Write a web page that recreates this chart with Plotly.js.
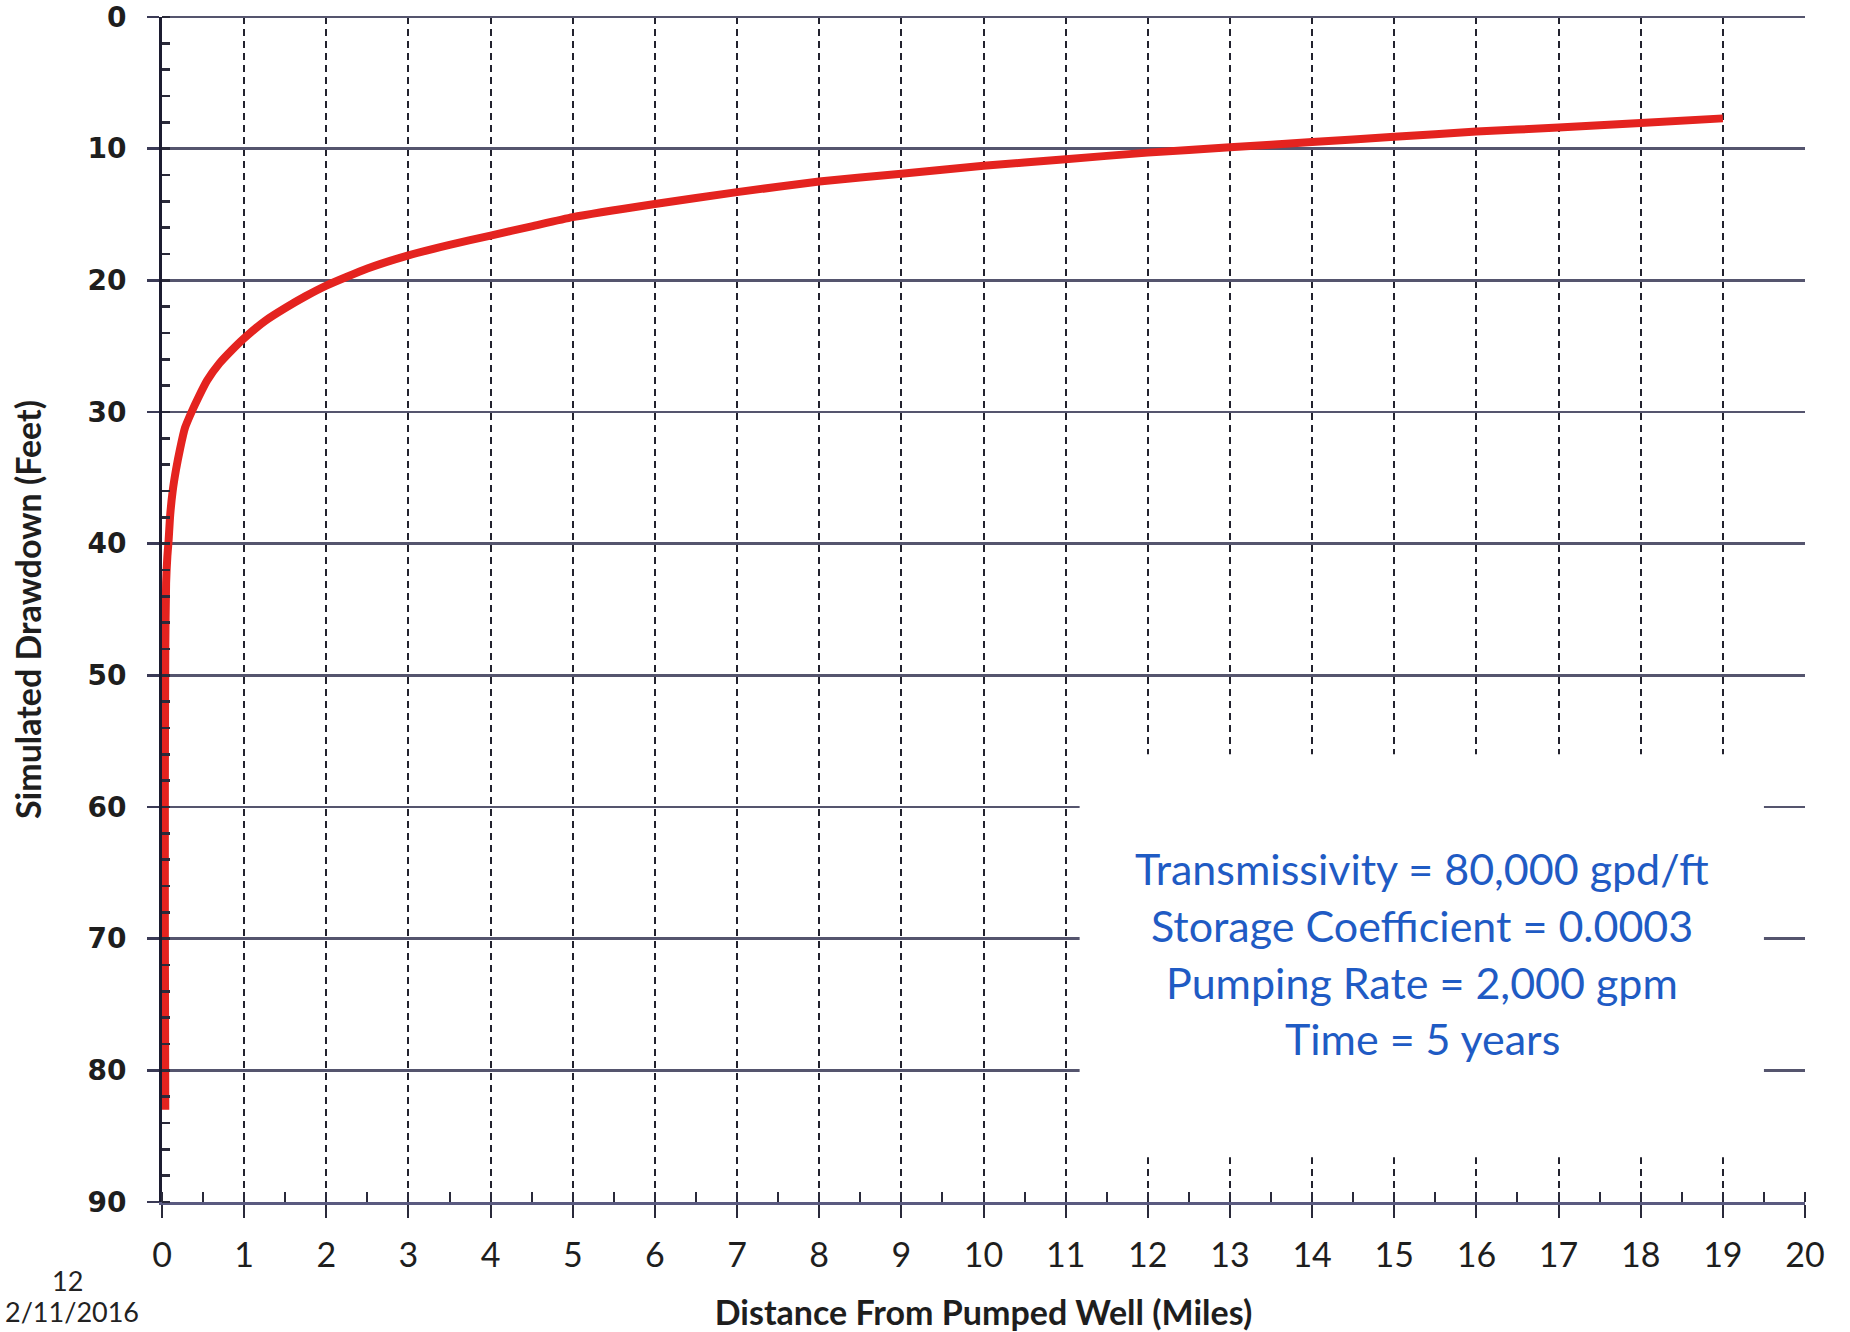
<!DOCTYPE html>
<html>
<head>
<meta charset="utf-8">
<script src="https://cdn.plot.ly/plotly-3.0.1.min.js"></script>
<style>
  html, body { margin: 0; padding: 0; background: #ffffff; }
  #chart { width: 1850px; height: 1332px; }
</style>
</head>
<body>
<div id="chart"></div>
<script>
// Distance from pumped well (miles)
const distanceMiles = [0.04, 0.035, 0.035, 0.04, 0.05, 0.065, 0.08, 0.1, 0.13, 0.17, 0.22, 0.28, 0.36, 0.45, 0.55, 0.7, 0.85, 1, 1.25, 1.5, 1.75, 2, 2.5, 3, 3.5, 4, 4.5, 5, 6, 7, 8, 9, 10, 11, 12, 13, 14, 15, 16, 17, 18, 19];
// Simulated drawdown (feet)
const drawdownFeet = [83, 70, 58, 48, 43, 41, 39.8, 37.8, 36.0, 34.4, 32.8, 31.2, 30.0, 28.8, 27.6, 26.3, 25.3, 24.4, 23.1, 22.1, 21.2, 20.4, 19.1, 18.1, 17.3, 16.6, 15.9, 15.2, 14.2, 13.3, 12.5, 11.9, 11.3, 10.8, 10.3, 9.9, 9.5, 9.1, 8.7, 8.4, 8.05, 7.7];

const xTickVals = [0,1,2,3,4,5,6,7,8,9,10,11,12,13,14,15,16,17,18,19,20];
const yTickVals = [0,10,20,30,40,50,60,70,80,90];

const infoLines = [
  "Transmissivity = 80,000 gpd/ft",
  "Storage Coefficient = 0.0003",
  "Pumping Rate = 2,000 gpm",
  "Time = 5 years"
];
const footerPage = "12";
const footerDate = "2/11/2016";

const xTitle = "Distance From Pumped Well (Miles)";
const yTitle = "Simulated Drawdown (Feet)";

const trace = {
  x: distanceMiles,
  y: drawdownFeet,
  type: "scatter",
  mode: "lines",
  line: { color: "#e4231f", width: 8, shape: "spline", smoothing: 0.5 },
  hoverinfo: "x+y",
  showlegend: false
};

const infoAnnotations = infoLines.map((t, i) => ({
  text: t,
  x: 15.34,
  y: 64.7 + i * 4.3,
  xref: "x",
  yref: "y",
  showarrow: false,
  xanchor: "center",
  yanchor: "middle",
  font: { family: "Lato, 'Open Sans', sans-serif", size: 43, color: "#1f5bc4" }
}));

const layout = {
  width: 1850,
  height: 1332,
  margin: { l: 162, r: 45, t: 17, b: 130, pad: 0 },
  paper_bgcolor: "#ffffff",
  plot_bgcolor: "#ffffff",
  showlegend: false,
  xaxis: {
    range: [0, 20],
    tickvals: xTickVals,
    ticktext: xTickVals.map(String),
    ticks: "outside",
    ticklen: 13,
    tickwidth: 2,
    tickcolor: "#2a2a3a",
    ticklabelstandoff: 8,
    tickfont: { family: "Lato, 'Open Sans', sans-serif", size: 34, color: "#1e1e1e" },
    showline: true,
    linecolor: "#5a5a80",
    linewidth: 3,
    showgrid: true,
    gridcolor: "#22222e",
    gridwidth: 2,
    griddash: "7px,5px",
    zeroline: false,
    minor: { dtick: 0.5, ticks: "inside", ticklen: 10, tickwidth: 2, tickcolor: "#2a2a3a", showgrid: false },
    title: {
      text: xTitle,
      standoff: 48,
      font: { family: "Lato, 'Open Sans', sans-serif", size: 34, weight: "bold", color: "#1e1e1e" }
    },
    fixedrange: true
  },
  yaxis: {
    range: [90, 0],
    tickvals: yTickVals,
    ticktext: yTickVals.map(String),
    ticks: "outside",
    ticklen: 12,
    tickwidth: 2.5,
    tickcolor: "#3a3a55",
    ticklabelstandoff: 15,
    tickfont: { family: "'DejaVu Sans', Verdana, sans-serif", size: 28, weight: "bold", color: "#1e1e1e" },
    showline: true,
    linecolor: "#1c1c30",
    linewidth: 3,
    showgrid: true,
    gridcolor: "#55556e",
    gridwidth: 2.6,
    zeroline: true,
    zerolinecolor: "#55556e",
    zerolinewidth: 2.8,
    minor: { dtick: 2, ticks: "inside", ticklen: 8, tickwidth: 2.5, tickcolor: "#2a2a3a", showgrid: false },
    title: {
      text: yTitle,
      standoff: 36,
      font: { family: "Lato, 'Open Sans', sans-serif", size: 34, weight: "bold", color: "#1e1e1e" }
    },
    fixedrange: true
  },
  shapes: [
    {
      type: "rect",
      xref: "x", yref: "y",
      x0: 11.17, x1: 19.5, y0: 56, y1: 86.6,
      fillcolor: "#ffffff",
      line: { width: 0 },
      layer: "between"
    }
  ],
  annotations: infoAnnotations.concat([
    {
      text: footerPage,
      xref: "paper", yref: "paper",
      x: -0.0578, y: -0.0660,
      xanchor: "center", yanchor: "middle",
      showarrow: false,
      font: { family: "Lato, 'Open Sans', sans-serif", size: 27, color: "#222222" }
    },
    {
      text: footerDate,
      xref: "paper", yref: "paper",
      x: -0.0970, y: -0.0928,
      xanchor: "left", yanchor: "middle",
      showarrow: false,
      font: { family: "Lato, 'Open Sans', sans-serif", size: 27, color: "#222222" }
    }
  ])
};

Plotly.newPlot("chart", [trace], layout, { displayModeBar: false, staticPlot: true });
</script>
</body>
</html>
